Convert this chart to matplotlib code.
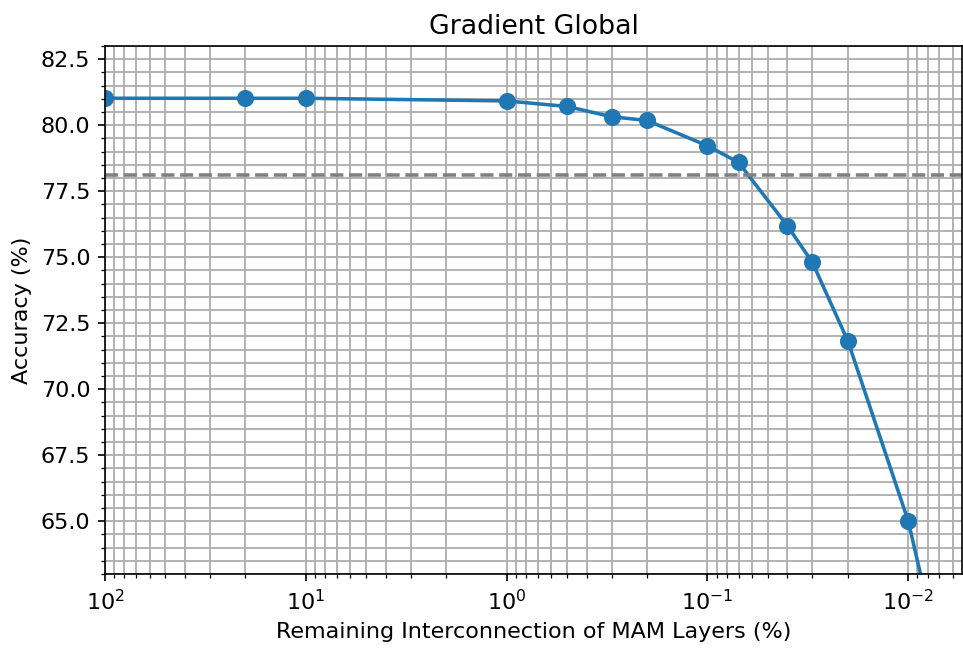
import matplotlib
matplotlib.use("Agg")
import matplotlib.pyplot as plt
from matplotlib.ticker import MultipleLocator

# Remaining interconnection (%) and accuracy (%)
remaining = [100, 20, 10, 1, 0.5, 0.3, 0.2, 0.1, 0.07, 0.04, 0.03, 0.02, 0.01, 0.005]
accuracy = [81.02, 81.02, 81.02, 80.92, 80.71, 80.32, 80.18, 79.22, 78.59, 76.19, 74.8, 71.83, 65.0, 55.1]
baseline = 78.12

plt.rcParams['font.size'] = 10.7

fig, ax = plt.subplots(figsize=(6.42, 4.32), dpi=150)
fig.subplots_adjust(left=105 / 963, right=962 / 963, top=1 - 46 / 648, bottom=1 - 574 / 648)

ax.plot(remaining, accuracy, marker='o', markersize=7.2, linewidth=1.7)
ax.axhline(baseline, color='gray', linestyle='--', linewidth=1.7)

ax.set_xscale('log')
ax.set_xlim(100, 0.0054)
ax.set_ylim(63, 83)
ax.yaxis.set_minor_locator(MultipleLocator(0.5))
ax.grid(True, which='both', color='#b0b0b0', linewidth=0.9)
ax.set_axisbelow(True)

ax.set_title('Gradient Global')
ax.set_xlabel('Remaining Interconnection of MAM Layers (%)')
ax.set_ylabel('Accuracy (%)')

fig.savefig('out.png', dpi=150)
